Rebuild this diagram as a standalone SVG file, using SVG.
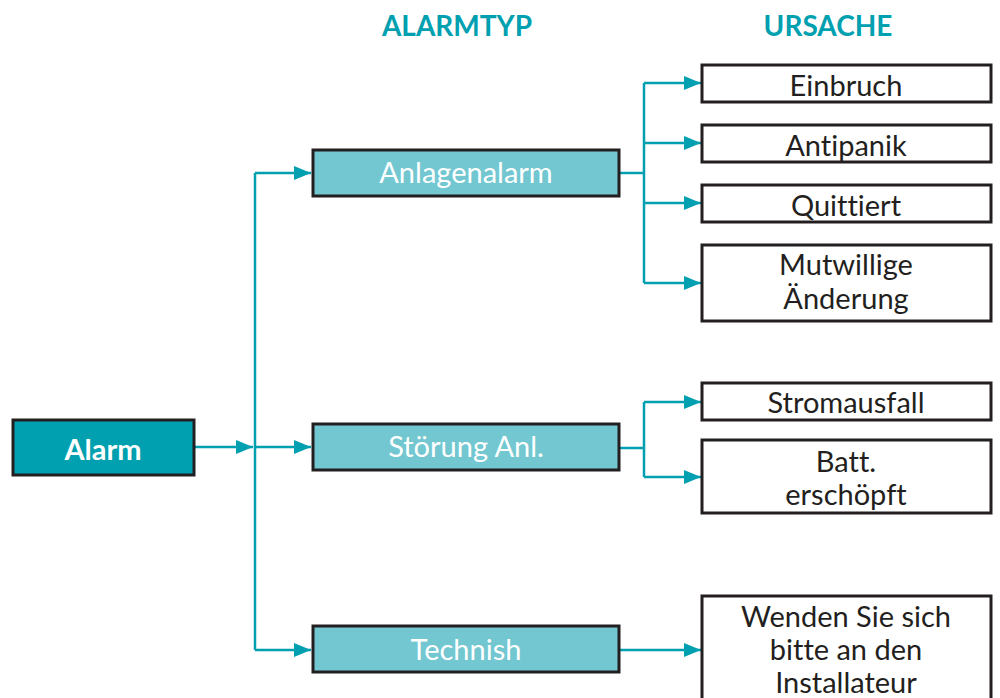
<svg xmlns="http://www.w3.org/2000/svg" width="1000" height="698" viewBox="0 0 1000 698">
<defs>
<marker id="arr" markerUnits="userSpaceOnUse" markerWidth="18" markerHeight="14" refX="17" refY="7" orient="auto">
<path d="M0,0 L17,7 L0,14 Z" fill="#00A0B0"/>
</marker>
<style>
.t{font-family:Lato,"Open Sans",sans-serif;font-size:29px;text-anchor:middle;font-variant-ligatures:none;font-feature-settings:"liga" 0}
.hdr{font-family:Lato,"Open Sans",sans-serif;font-size:28px;font-weight:bold;fill:#00A0B0;text-anchor:middle}
.main{fill:#00A0B0;stroke:#231F20;stroke-width:3}
.mid{fill:#72C7D1;stroke:#231F20;stroke-width:3}
.leaf{fill:#FFFFFF;stroke:#231F20;stroke-width:3}
.w{fill:#FFFFFF}
.b{fill:#231F20}
.c{fill:none;stroke:#00A0B0;stroke-width:2.5}
</style>
</defs>
<rect width="1000" height="698" fill="#FFFFFF"/>
<g id="headers">
<text class="hdr" x="457" y="36">ALARMTYP</text>
<text class="hdr" x="828" y="36">URSACHE</text>
</g>
<g id="connectors">
<path class="c" d="M195,447 H253" marker-end="url(#arr)"/>
<path class="c" d="M255,173 V650"/>
<path class="c" d="M255,173 H311" marker-end="url(#arr)"/>
<path class="c" d="M255,447 H311" marker-end="url(#arr)"/>
<path class="c" d="M255,650 H311" marker-end="url(#arr)"/>
<path class="c" d="M620,173 H644"/>
<path class="c" d="M644,83 V283"/>
<path class="c" d="M644,83 H701" marker-end="url(#arr)"/>
<path class="c" d="M644,143 H701" marker-end="url(#arr)"/>
<path class="c" d="M644,203 H701" marker-end="url(#arr)"/>
<path class="c" d="M644,283 H701" marker-end="url(#arr)"/>
<path class="c" d="M620,448 H644"/>
<path class="c" d="M644,402 V477"/>
<path class="c" d="M644,402 H701" marker-end="url(#arr)"/>
<path class="c" d="M644,477 H701" marker-end="url(#arr)"/>
<path class="c" d="M620,650 H701" marker-end="url(#arr)"/>
</g>
<g id="alarm">
<rect class="main" x="13" y="420" width="181" height="55"/>
<text class="t w" x="103" y="460" font-weight="bold">Alarm</text>
</g>
<g id="anlagenalarm">
<rect class="mid" x="313" y="150" width="306" height="46"/>
<text class="t w" x="466" y="183">Anlagenalarm</text>
</g>
<g id="stoerung">
<rect class="mid" x="313" y="424" width="306" height="46"/>
<text class="t w" x="466" y="457">Störung Anl.</text>
</g>
<g id="technish">
<rect class="mid" x="313" y="626" width="306" height="46"/>
<text class="t w" x="466" y="660">Technish</text>
</g>
<g id="einbruch">
<rect class="leaf" x="702" y="65" width="289" height="37"/>
<text class="t b" x="846" y="96">Einbruch</text>
</g>
<g id="antipanik">
<rect class="leaf" x="702" y="125" width="289" height="37"/>
<text class="t b" x="846" y="156">Antipanik</text>
</g>
<g id="quittiert">
<rect class="leaf" x="702" y="185" width="289" height="37"/>
<text class="t b" x="846" y="216">Quittiert</text>
</g>
<g id="mutwillige">
<rect class="leaf" x="702" y="245" width="289" height="76"/>
<text class="t b" x="846" y="275">Mutwillige</text>
<text class="t b" x="846" y="309">Änderung</text>
</g>
<g id="stromausfall">
<rect class="leaf" x="702" y="383" width="289" height="37"/>
<text class="t b" x="846" y="413">Stromausfall</text>
</g>
<g id="batt">
<rect class="leaf" x="702" y="440" width="289" height="73"/>
<text class="t b" x="846" y="472">Batt.</text>
<text class="t b" x="846" y="505">erschöpft</text>
</g>
<g id="installateur">
<rect class="leaf" x="702" y="596" width="289" height="110"/>
<text class="t b" x="846" y="627">Wenden Sie sich</text>
<text class="t b" x="846" y="660">bitte an den</text>
<text class="t b" x="846" y="693">Installateur</text>
</g>
</svg>
